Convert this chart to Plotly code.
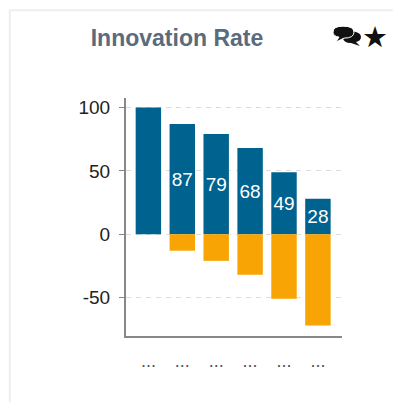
import plotly.graph_objects as go

categories = ["...", "...", "...", "...", "...", "..."]
positive = [100, 87, 79, 68, 49, 28]
negative = [0, -13, -21, -32, -51, -72]
labels = ["", "87", "79", "68", "49", "28"]
y_ticks = [-50, 0, 50, 100]
y_tick_labels = ["-50", "0", "50", "100"]
title = "Innovation Rate"

W, H = 393, 403
L, R, T, B = 125.5, 342, 98, 336.5

def px(x):
    return (x - L) / (R - L)

def py(y):
    return (B - y) / (B - T)

positions = list(range(len(categories)))

fig = go.Figure()
fig.add_bar(x=positions, y=positive, width=0.75, marker=dict(color="#00628f", line_width=0),
            text=labels, textposition="inside", insidetextanchor="middle", textangle=0,
            textfont=dict(color="white", size=19, family="Liberation Sans"),
            constraintext="none", cliponaxis=False, name="Positive")
fig.add_bar(x=positions, y=negative, width=0.75, marker=dict(color="#f7a404", line_width=0), name="Negative")

# card border
fig.add_shape(type="line", xref="paper", yref="paper", x0=px(9), x1=px(9), y0=py(10), y1=py(403),
              line=dict(color="#eeeeee", width=2), layer="below")
fig.add_shape(type="line", xref="paper", yref="paper", x0=px(9), x1=px(393), y0=py(10), y1=py(10),
              line=dict(color="#eeeeee", width=2), layer="below")

# chat bubbles icon
def P(x, y):
    return f"{px(x):.4f},{py(y):.4f}"

back = (f"M {P(348,31)} Q {P(361,31)} {P(361,37)} Q {P(361,41)} {P(356,42)} "
        f"L {P(360,46)} L {P(351,43)} Q {P(343,43)} {P(343,37)} Z")
front = (f"M {P(343,26)} Q {P(354,26)} {P(354,32)} Q {P(354,38)} {P(344,38)} "
         f"L {P(336,42)} L {P(339,37)} Q {P(333,36)} {P(333,32)} Q {P(333,26)} {P(343,26)} Z")
fig.add_shape(type="path", xref="paper", yref="paper", path=back, fillcolor="#111111", line_width=0)
fig.add_shape(type="path", xref="paper", yref="paper", path=front, fillcolor="#111111",
              line=dict(color="white", width=1))

fig.add_annotation(text="★", xref="paper", yref="paper", x=px(375), y=py(37), showarrow=False,
                   xanchor="center", yanchor="middle",
                   font=dict(family="DejaVu Sans", size=29, color="#111111"))

fig.update_layout(
    width=W, height=H, margin=dict(l=L, r=W - R, t=T, b=H - B, pad=0, autoexpand=False),
    paper_bgcolor="white", plot_bgcolor="white", barmode="relative", showlegend=False,
    font=dict(family="Liberation Sans", color="#222222"),
    title=dict(text=f"<b>{title}</b>", x=177 / W, xanchor="center", y=1 - 38 / H, yanchor="middle",
               font=dict(family="Liberation Sans", size=23, color="#5a6b7d")),
)
fig.update_xaxes(range=[-0.66, 5.71], tickmode="array", tickvals=positions, ticktext=categories,
                 showgrid=False, zeroline=False, showline=True, linecolor="#888888", linewidth=2,
                 ticks="", ticklabelstandoff=7, tickfont=dict(size=18, color="#555555"))
fig.update_yaxes(range=[-80.3, 107.5], tickmode="array", tickvals=y_ticks, ticktext=y_tick_labels,
                 showgrid=True, griddash="5px,5px",
                 gridcolor="#dddddd", gridwidth=1, zeroline=False, showline=True,
                 linecolor="#888888", linewidth=2, ticks="outside", ticklen=5, tickcolor="#888888",
                 tickwidth=1, ticklabelstandoff=5, tickfont=dict(size=19, color="#222222"))

fig.write_html("out.html", config={"displayModeBar": False},
               post_script="document.body.style.margin='0';")
